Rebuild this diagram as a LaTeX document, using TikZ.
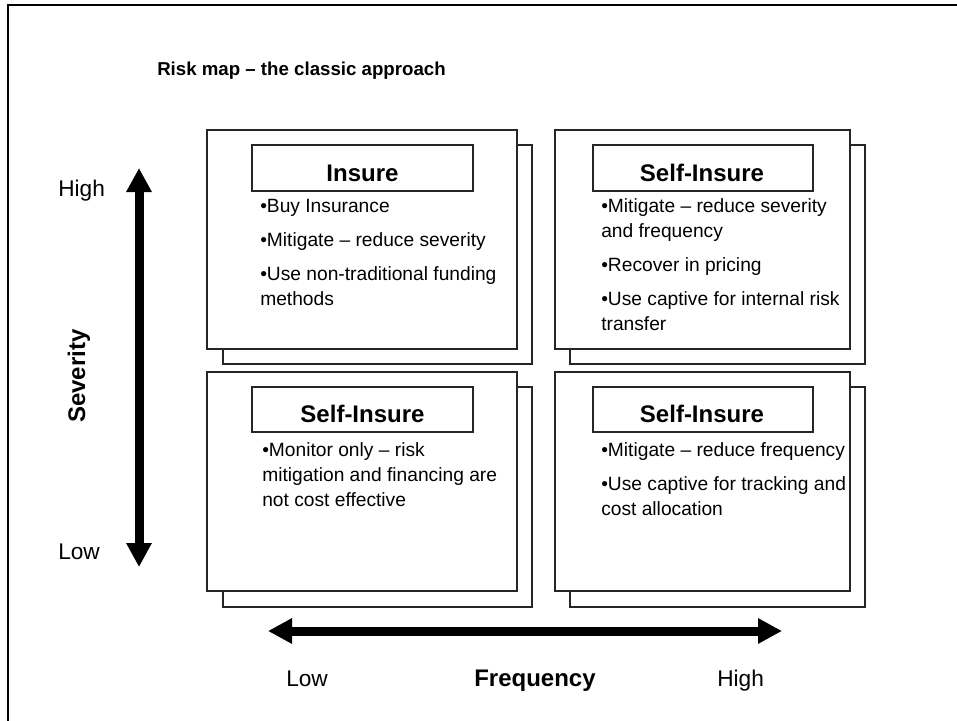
\documentclass[tikz,border=0pt]{standalone}
\usepackage{fontspec}
\setmainfont{Liberation Sans}
\usetikzlibrary{arrows.meta,fit}

\begin{document}
\begin{tikzpicture}[x=0.75pt,y=-0.75pt,
  frameline/.style={line width=1.5pt,black},
  card/.style={draw=black!85,line width=0.8pt,fill=white,inner sep=0pt},
  headbox/.style={draw=black!85,line width=0.8pt,fill=white,inner sep=0pt},
  headtext/.style={anchor=base,inner sep=0pt,font=\fontsize{18}{21}\selectfont\bfseries},
  bodytext/.style={anchor=north west,inner sep=0pt,align=left,
    font=\fontsize{14.4}{18.75}\selectfont},
  axislabel/.style={inner sep=0pt,font=\fontsize{17}{20}\selectfont},
  axisname/.style={inner sep=0pt,font=\fontsize{18}{21}\selectfont\bfseries},
  axisarrow/.style={line width=6.75pt,line cap=butt,
    {Triangle[length=18pt,width=18pt]}-{Triangle[length=18pt,width=18pt]}}
]
\useasboundingbox (0,0) rectangle (957,721);

% outer frame (top and left edges)
\draw[frameline] (8,725) -- (8,5) -- (960,5);

% heading
\node[anchor=base west,inner sep=0pt,font=\fontsize{14}{17}\selectfont\bfseries]
  (maptitle) at (157,75) {Risk map – the classic approach};

% back cards (offset copies)
\node[card,fit={(223,145) (532,364)}] (tlBack) {};
\node[card,fit={(570,145) (865,364)}] (trBack) {};
\node[card,fit={(223,387) (532,607)}] (blBack) {};
\node[card,fit={(570,387) (865,607)}] (brBack) {};

% front cards
\node[card,fit={(207,130) (517,349)}] (tlCard) {};
\node[card,fit={(555,130) (850,349)}] (trCard) {};
\node[card,fit={(207,372) (517,591)}] (blCard) {};
\node[card,fit={(555,372) (850,591)}] (brCard) {};

% header boxes
\node[headbox,fit={(252,145) (473,191)}] (tlHead) {};
\node[headbox,fit={(593,145) (813,191)}] (trHead) {};
\node[headbox,fit={(252,387) (473,432)}] (blHead) {};
\node[headbox,fit={(593,387) (813,432)}] (brHead) {};

\node[headtext] (tlHeadText) at (362.5,181.5) {Insure};
\node[headtext] (trHeadText) at (702,181.5) {Self-Insure};
\node[headtext] (blHeadText) at (362.5,422) {Self-Insure};
\node[headtext] (brHeadText) at (702,422) {Self-Insure};

% card contents
\node[bodytext] (tlBody) at (260,199.5)
  {•Buy Insurance\\[6.75pt]
   •Mitigate – reduce severity\\[6.75pt]
   •Use non-traditional funding\\
   methods};
\node[bodytext] (trBody) at (601,198.5)
  {•Mitigate – reduce severity\\
   and frequency\\[6.75pt]
   •Recover in pricing\\[6.75pt]
   •Use captive for internal risk\\
   transfer};
\node[bodytext] (blBody) at (262,442)
  {•Monitor only – risk\\
   mitigation and financing are\\
   not cost effective};
\node[bodytext] (brBody) at (601,442)
  {•Mitigate – reduce frequency\\[6.75pt]
   •Use captive for tracking and\\
   cost allocation};

% severity axis
\coordinate (sevHigh) at (139,168);
\coordinate (sevLow) at (139,567);
\draw[axisarrow] (sevHigh) -- (sevLow);
\node[axislabel,anchor=base west] (sevHighLabel) at (58,196) {High};
\node[axislabel,anchor=base west] (sevLowLabel) at (58,559) {Low};
\node[axisname,anchor=base,rotate=90] (sevName) at (85,376) {Severity};

% frequency axis
\coordinate (freqLow) at (268,631);
\coordinate (freqHigh) at (782,631);
\draw[axisarrow] (freqLow) -- (freqHigh);
\node[axislabel,anchor=base west] (freqLowLabel) at (286,686) {Low};
\node[axisname,anchor=base] (freqName) at (535,686) {Frequency};
\node[axislabel,anchor=base west] (freqHighLabel) at (717,686) {High};
\end{tikzpicture}
\end{document}
